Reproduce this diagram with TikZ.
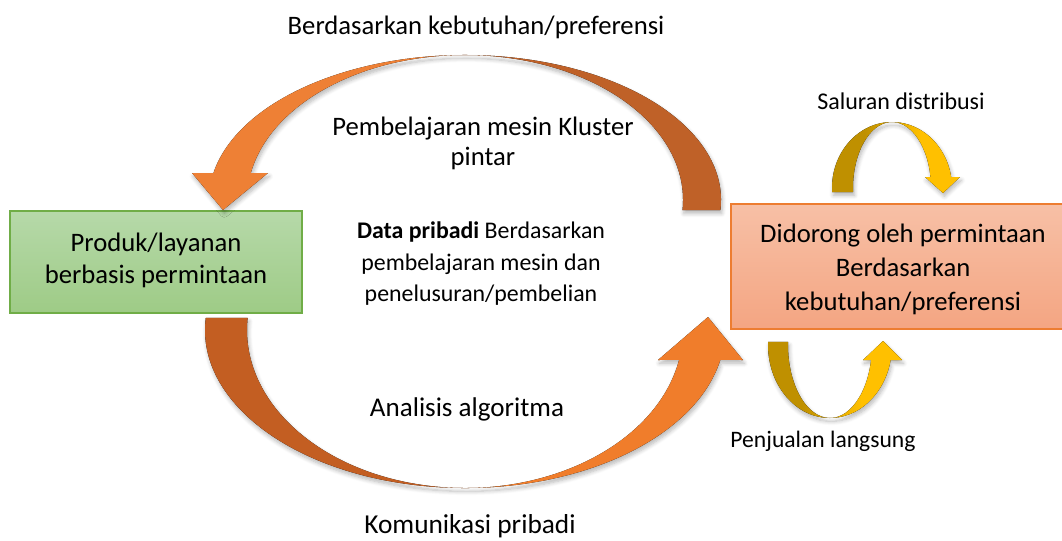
\documentclass[tikz,border=0pt]{standalone}
\usepackage{fontspec}
\setmainfont{Carlito}
\usetikzlibrary{calc,shadows.blur}
\definecolor{arcO}{HTML}{EE8035}
\definecolor{arcB}{HTML}{BF6128}
\definecolor{arcBL}{HTML}{C35E22}
\definecolor{arcOR}{HTML}{F07D2B}
\definecolor{goldD}{HTML}{BF9000}
\definecolor{goldY}{HTML}{FFC000}
\definecolor{grnT}{HTML}{B6D9A9}
\definecolor{grnB}{HTML}{9ECB86}
\definecolor{grnE}{HTML}{70AD47}
\definecolor{orT}{HTML}{F7C0A6}
\definecolor{orB}{HTML}{F4A582}
\definecolor{orE}{HTML}{ED7D31}
\pgfdeclarehorizontalshading{topArcShade}{100bp}{color(0bp)=(arcO); color(46bp)=(arcO); color(55bp)=(arcB); color(100bp)=(arcB)}
\pgfdeclarehorizontalshading{botArcShade}{100bp}{color(0bp)=(arcBL); color(45bp)=(arcBL); color(54bp)=(arcOR); color(100bp)=(arcOR)}
\pgfdeclarehorizontalshading{goldShade}{100bp}{color(0bp)=(goldD); color(38bp)=(goldD); color(60bp)=(goldY); color(100bp)=(goldY)}
\tikzset{
  lbl/.style={align=center, font=\fontsize{20}{22.5}\selectfont, inner sep=0pt},
  softshadow/.style={blur shadow={shadow xshift=1pt, shadow yshift=-2.5pt, shadow blur steps=6, shadow opacity=28, shadow blur radius=3pt}},
}
\begin{document}
\begin{tikzpicture}[x=0.75pt, y=-0.75pt]
\useasboundingbox (0,0) rectangle (1062,540);
% boxes
\node[draw=grnE, line width=0.8pt, top color=grnT, bottom color=grnB,
      minimum width=219pt, minimum height=76.5pt, inner sep=0pt] (prod) at (156,262) {};
\node[lbl, font=\fontsize{20}{24}\selectfont] (prodtxt) at (156,260) {Produk/layanan\\berbasis permintaan};
\node[draw=orE, line width=0.8pt, top color=orT, bottom color=orB,
      minimum width=252pt, minimum height=93.75pt, inner sep=0pt] (demand) at (899,266.5) {};
\node[lbl, font=\fontsize{20}{25.5}\selectfont] (demandtxt) at (903,269) {Didorong oleh permintaan\\Berdasarkan\\kebutuhan/preferensi};
% centres of the arcs
\coordinate (C) at (465,200);
\coordinate (D) at (465,330);
\coordinate (E) at (892,188);
\coordinate (F) at (830,345);
% top big arc (right to left)
\fill[shading=topArcShade, softshadow]
  ($(C)+(4:256 and 145)$) arc[start angle=4, end angle=-169.3, x radius=256, y radius=145]
  -- (192,173) -- (223,210) -- (268,173)
  -- ($(C)+(-169.3:218 and 145)$) arc[start angle=-169.3, end angle=4, x radius=218, y radius=145]
  -- cycle;
% bottom big arc (left to right)
\fill[shading=botArcShade, softshadow]
  ($(D)+(184.4:260 and 158)$) arc[start angle=184.4, end angle=10.9, x radius=260, y radius=158]
  -- (743,360) -- (708,317) -- (658,360)
  -- ($(D)+(10.9:218 and 158)$) arc[start angle=10.9, end angle=184.4, x radius=218, y radius=158]
  -- cycle;
% small top arrow
\fill[shading=goldShade, softshadow]
  ($(E)+(176.5:60 and 66)$) arc[start angle=176.5, end angle=350.4, x radius=60, y radius=66]
  -- (960,177) -- (943,193) -- (925,177)
  -- ($(E)+(350.4:39 and 66)$) arc[start angle=350.4, end angle=176.5, x radius=39, y radius=66]
  -- cycle;
% small bottom arrow
\fill[shading=goldShade, softshadow]
  ($(F)+(182.4:62 and 73)$) arc[start angle=182.4, end angle=11.9, x radius=62, y radius=73]
  -- (902,360) -- (883,341) -- (863,360)
  -- ($(F)+(11.9:42 and 73)$) arc[start angle=11.9, end angle=182.4, x radius=42, y radius=73]
  -- cycle;
% labels
\node[lbl] (top) at (476,27) {Berdasarkan kebutuhan/preferensi};
\node[lbl] (ml) at (483,143) {Pembelajaran mesin Kluster\\pintar};
\node[lbl, font=\fontsize{17.9}{23.6}\selectfont] (data) at (481,264) {\textbf{Data pribadi} Berdasarkan\\pembelajaran mesin dan\\penelusuran/pembelian};
\node[lbl, font=\fontsize{20.3}{22}\selectfont] (algo) at (467,409) {Analisis algoritma};
\node[lbl, font=\fontsize{20.5}{22}\selectfont] (kom) at (470,526) {Komunikasi pribadi};
\node[lbl, font=\fontsize{18}{20}\selectfont] (sal) at (901,101) {Saluran distribusi};
\node[lbl, font=\fontsize{17.7}{20}\selectfont] (pen) at (823,441) {Penjualan langsung};
\end{tikzpicture}
\end{document}
